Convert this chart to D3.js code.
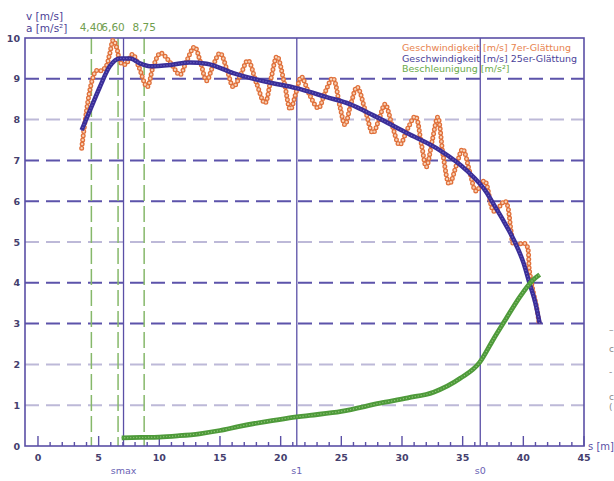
<!DOCTYPE html>
<html><head><meta charset="utf-8">
<script src="https://cdn.jsdelivr.net/npm/d3@7"></script>
<style>body{margin:0;background:#fff}svg{display:block}text{font-family:"DejaVu Sans",Verdana,sans-serif}</style>
</head><body>
<script>
// ---- data ----
const sOrange = [3.6,3.9,4.2,4.5,4.8,5.2,5.6,5.9,6.2,6.5,6.8,7.2,7.8,8.3,9.0,9.5,10.1,10.9,11.7,12.2,12.9,13.4,13.9,14.4,15.0,15.6,16.1,16.7,17.3,18.0,18.7,19.2,19.7,20.3,20.8,21.3,21.7,22.4,23.1,23.7,24.3,24.9,25.3,25.8,26.3,27.0,27.6,28.1,28.6,29.2,29.8,30.5,31.1,31.6,32.0,32.5,32.95,33.4,33.9,34.5,35.0,35.6,36.1,36.8,37.6,38.5,39.0,39.2,40.2,40.5,40.8,41.1,41.3];
const vOrange = [7.3,8.0,8.6,9.0,9.2,9.2,9.3,9.6,9.95,9.75,9.4,9.35,9.6,9.3,8.8,9.3,9.63,9.4,9.1,9.4,9.78,9.4,8.95,9.3,9.63,9.2,8.8,9.1,9.45,8.9,8.4,9.0,9.55,8.9,8.25,8.7,9.05,8.6,8.28,8.7,9.02,8.3,7.87,8.4,8.8,8.2,7.67,8.0,8.38,7.85,7.38,7.8,8.08,7.4,6.84,7.5,8.06,7.1,6.42,6.9,7.28,6.7,6.25,6.5,5.75,6.0,5.25,4.95,4.95,4.3,3.8,3.4,3.0];
const sBlue = [3.6,4.3,5.1,5.9,6.75,7.6,8.4,9.2,10.9,12.5,13.9,16.1,18.9,21.3,23.8,25.7,27.6,30.4,33.1,35.3,37.0,37.4,38.4,39.3,40.0,40.5,41.0,41.35];
const vBlue = [7.74,8.24,8.8,9.3,9.5,9.5,9.38,9.31,9.34,9.4,9.37,9.14,8.92,8.77,8.55,8.38,8.11,7.67,7.25,6.76,6.2,6.0,5.5,5.0,4.5,4.0,3.5,3.0];
const sGreen = [6.9,8.5,10,11.5,13.3,15,16.6,18.8,20.5,22.4,25,28.2,30.5,32.6,34.8,36.4,37.5,38.6,39.7,40.8,41.35];
const aGreen = [0.2,0.21,0.22,0.25,0.3,0.38,0.48,0.6,0.68,0.75,0.85,1.05,1.18,1.32,1.66,2.05,2.6,3.13,3.65,4.07,4.2];
const markerS = [7.05,21.33,36.45];
const markerLabels = ["smax","s1","s0"];
const greenS = [4.40,6.60,8.75];
const greenLabels = ["4,40","6,60","8,75"];
const xMajor = [0,5,10,15,20,25,30,35,40,45];
const yTicks = [0,1,2,3,4,5,6,7,8,9,10];
const darkGrid = [9,7,6,4,3];
const legendTexts = ["Geschwindigkeit [m/s] 7er-Glättung","Geschwindigkeit [m/s] 25er-Glättung","Beschleunigung [m/s²]"];

const W=614,H=481;
const svg=d3.select("body").append("svg").attr("width",W).attr("height",H);
const x=d3.scaleLinear().domain([-1.07,45]).range([25,584]);
const y=d3.scaleLinear().domain([0,10]).range([446,38]);
const AX="#5a4fa6";

// horizontal gridlines
svg.append("g").selectAll("line").data(yTicks.filter(d=>d>0&&d<10)).join("line")
  .attr("x1",x(-1.07)).attr("x2",x(45)).attr("y1",d=>y(d)).attr("y2",d=>y(d))
  .attr("stroke",d=>darkGrid.includes(d)?"#5c53aa":"#bdb9d8")
  .attr("stroke-width",2).attr("stroke-dasharray","14,7");

// solid vertical marker lines
svg.append("g").selectAll("line").data(markerS).join("line")
  .attr("x1",d=>x(d)).attr("x2",d=>x(d)).attr("y1",y(10)).attr("y2",y(0))
  .attr("stroke",AX).attr("stroke-width",1.3);
// green dashed lines
svg.append("g").selectAll("line").data(greenS).join("line")
  .attr("x1",d=>x(d)).attr("x2",d=>x(d)).attr("y1",y(10)).attr("y2",y(0))
  .attr("stroke","#86b86a").attr("stroke-width",1.5).attr("stroke-dasharray","16,5");
svg.append("g").selectAll("text").data(greenS).join("text")
  .attr("x",(d,i)=>x(d)+(i===1?-5:0)).attr("y",31).attr("text-anchor","middle")
  .attr("font-size",10.5).attr("fill","#6f9e4e").text((d,i)=>greenLabels[i]);

// frame
const frame=svg.append("g").attr("stroke",AX).attr("stroke-width",1.6).attr("fill","none");
frame.append("rect").attr("x",x(-1.07)).attr("y",y(10)).attr("width",x(45)-x(-1.07)).attr("height",y(0)-y(10));

// x ticks (upward)
svg.append("g").selectAll("line").data(d3.range(0,46,1)).join("line")
  .attr("x1",d=>x(d)).attr("x2",d=>x(d)).attr("y1",y(0))
  .attr("y2",d=>y(0)-(d%5===0?10:4)).attr("stroke",AX).attr("stroke-width",1.4);
svg.append("g").selectAll("text").data(xMajor).join("text")
  .attr("x",d=>x(d)).attr("y",461).attr("text-anchor","middle")
  .attr("font-size",9.5).attr("font-weight","bold").attr("fill","#45406e").text(d=>d);
svg.append("g").selectAll("text").data(yTicks).join("text")
  .attr("x",20).attr("y",d=>y(d)+3.5).attr("text-anchor","end")
  .attr("font-size",9.5).attr("font-weight","bold").attr("fill","#45406e").text(d=>d);

// axis titles
svg.append("text").attr("x",26).attr("y",20).attr("font-size",10.5).attr("fill","#4b3f96").text("v [m/s]");
svg.append("text").attr("x",26).attr("y",32).attr("font-size",10.5).attr("fill","#4b3f96").text("a [m/s²]");
svg.append("text").attr("x",588).attr("y",450).attr("font-size",10).attr("fill","#5a4fa6").text("s [m]");
svg.append("g").selectAll("text").data(markerS).join("text")
  .attr("x",d=>x(d)).attr("y",474).attr("text-anchor","middle")
  .attr("font-size",9.5).attr("fill","#6a62b4").text((d,i)=>markerLabels[i]);

// curves
const line=(xs,ys,c)=>d3.line().x((d,i)=>x(xs[i])).y((d,i)=>y(ys[i])).curve(c)(xs);
const g=svg.append("g").attr("fill","none");
const oPath=line(sOrange,vOrange,d3.curveCatmullRom.alpha(0.5));
g.append("path").attr("d",oPath).attr("stroke","#e27a44").attr("stroke-width",1.2);
g.append("path").attr("d",oPath).attr("stroke","#e0703a").attr("stroke-width",5).attr("stroke-linecap","round").attr("stroke-dasharray","0,4.2");
g.append("path").attr("d",oPath).attr("stroke","#f7d2b8").attr("stroke-width",2.4).attr("stroke-linecap","round").attr("stroke-dasharray","0,4.2");

const bPath=line(sBlue,vBlue,d3.curveMonotoneX);
g.append("path").attr("d",bPath).attr("stroke","#3a2e98").attr("stroke-width",4.5);
g.append("path").attr("d",bPath).attr("stroke","#6d64c4").attr("stroke-width",1.4).attr("stroke-linecap","round").attr("stroke-dasharray","0,3");

const gPath=line(sGreen,aGreen,d3.curveMonotoneX);
g.append("path").attr("d",gPath).attr("stroke","#4e9a3a").attr("stroke-width",4.8);
g.append("path").attr("d",gPath).attr("stroke","#8fc477").attr("stroke-width",1.4).attr("stroke-linecap","round").attr("stroke-dasharray","0,3");

// legend
const legCol=["#e8834e","#4b3f9a","#6aaa4a"];
svg.append("g").selectAll("text").data(legendTexts).join("text")
  .attr("x",402).attr("y",(d,i)=>51+i*10.5).attr("font-size",9.5)
  .attr("fill",(d,i)=>legCol[i]).text(d=>d);

// cropped side fragments
const frag=["–","c","-","c","("];
const fragY=[333,352,375,400,410];
svg.append("g").selectAll("text").data(frag).join("text")
  .attr("x",609).attr("y",(d,i)=>fragY[i]).attr("font-size",9).attr("fill","#888").text(d=>d);
</script>
</body></html>
